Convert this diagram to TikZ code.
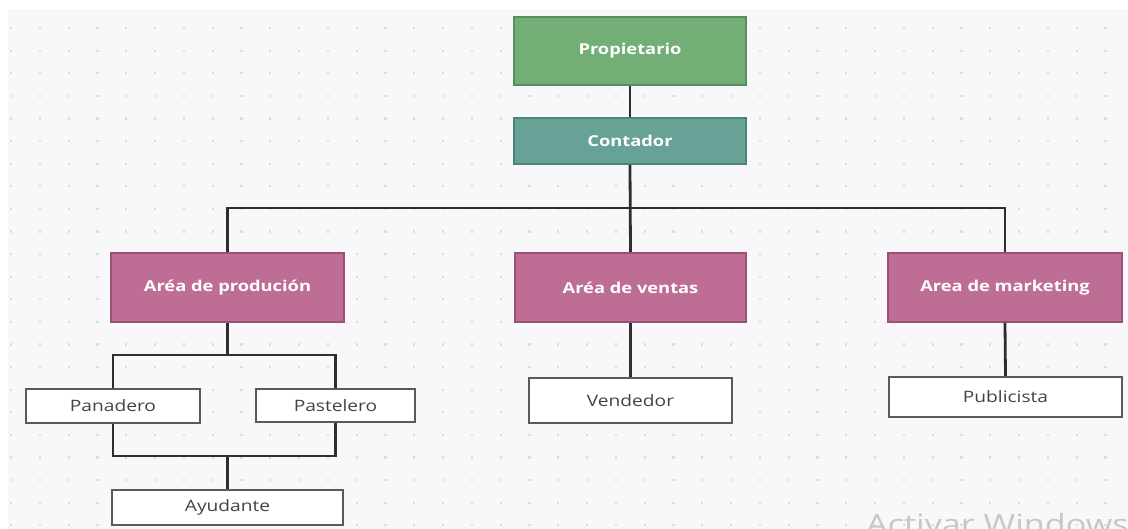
\documentclass[tikz,border=0pt]{standalone}
\usepackage{fontspec}
\setmainfont[FakeStretch=1.22]{Open Sans}
\definecolor{bgc}{HTML}{F8F8FA}
\definecolor{dotc}{HTML}{DCDCE1}
\definecolor{propf}{HTML}{72AE76}
\definecolor{propd}{HTML}{5B8E5F}
\definecolor{contf}{HTML}{67A297}
\definecolor{contd}{HTML}{4F8279}
\definecolor{pinkf}{HTML}{BE6E94}
\definecolor{pinkd}{HTML}{9B5075}
\definecolor{boxd}{HTML}{5A5A5A}
\definecolor{txtd}{HTML}{444444}
\definecolor{linec}{HTML}{2E2E2E}
\begin{document}
\begin{tikzpicture}[x=1pt,y=-1pt,
  base/.style={rectangle,inner sep=0pt,font=\fontsize{15.7}{18}\selectfont},
  topbox/.style={base,fill=#1f,draw=#1d,line width=1.8pt,text=white,font=\fontsize{15}{18}\selectfont\bfseries},
  wbox/.style={base,fill=white,draw=boxd,line width=2pt,text=txtd},
  conn/.style={draw=linec,line width=2.8pt}]
\useasboundingbox (0,0) rectangle (1128,529);
\clip (0,0) rectangle (1128,529);
\fill[white] (0,0) rectangle (1128,529);
\fill[bgc] (8,9) rectangle (1128,529);
\foreach \i in {0,...,38}{
  \foreach \j in {0,...,22}{
    \fill[dotc] ({11+28.8*\i-1},{28+22.6*\j-1}) rectangle ++(2.2,2.2);
  }
}
% nodes
\node[topbox=prop,minimum width=232pt,minimum height=68pt] (prop) at (630,51) {Propietario};
\node[topbox=cont,minimum width=232pt,minimum height=46pt] (cont) at (630,141) {Contador};
\node[topbox=pink,minimum width=233pt,minimum height=69pt] (prod) at (227.5,287.5) {Aréa de produción};
\node[topbox=pink,minimum width=231pt,minimum height=69pt] (vent) at (630.5,287.5) {Aréa de ventas};
\node[topbox=pink,minimum width=234pt,minimum height=69pt] (mkt) at (1005,287.5) {Area de marketing};
\node[wbox,minimum width=174pt,minimum height=34pt] (pan) at (113,406) {Panadero};
\node[wbox,minimum width=159pt,minimum height=33pt] (past) at (335.5,405.5) {Pastelero};
\node[wbox,minimum width=231pt,minimum height=35pt] (ayu) at (227.5,507.5) {Ayudante};
\node[wbox,minimum width=203pt,minimum height=45pt] (vend) at (630.5,400.5) {Vendedor};
\node[wbox,minimum width=233pt,minimum height=40pt] (pub) at (1005.5,397) {Publicista};
% connectors
\coordinate (bus) at (630,208);
\coordinate (pb) at (227.5,355);
\coordinate (ab) at (227.5,456);
\draw[conn] (prop.south) -- (cont.north);
\draw[conn] (cont.south) -- (vent.north);
\draw[conn] (prod.north) |- (bus) -| (mkt.north);
\draw[conn] (prod.south) -- (pb);
\draw[conn] (pan.north) |- (pb) -| (past.north);
\draw[conn] (pan.south) |- (ab) -| (past.south);
\draw[conn] (ab) -- (ayu.north);
\draw[conn] (vent.south) -- (vend.north);
\draw[conn] (mkt.south) -- (pub.north);
% watermark
\node[anchor=north west,inner sep=0pt,text=black!22,font=\fontsize{28}{32}\selectfont] (wm) at (866,513) {Activar Windows};
\end{tikzpicture}
\end{document}
